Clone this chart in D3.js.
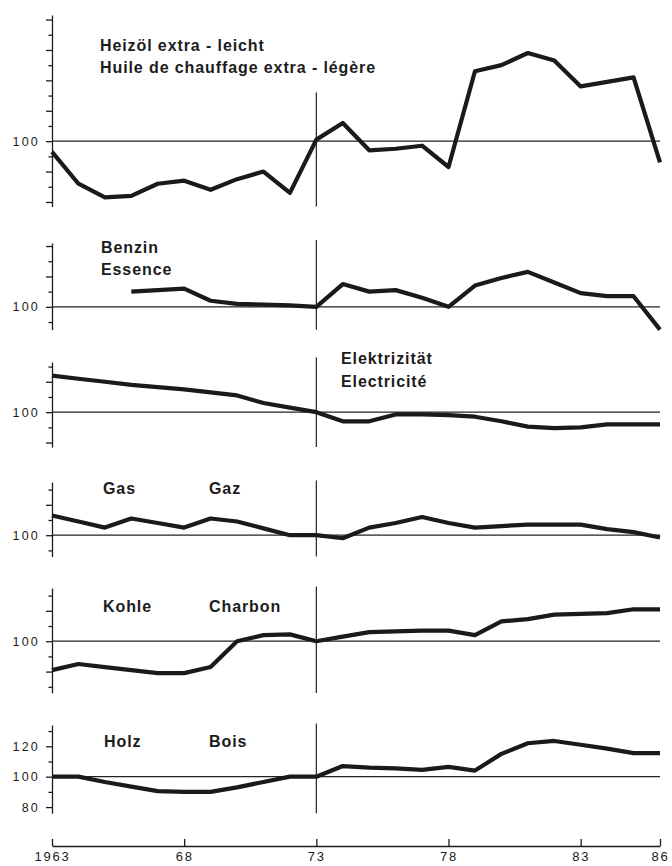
<!DOCTYPE html>
<html>
<head>
<meta charset="utf-8">
<script src="https://cdn.jsdelivr.net/npm/d3@7"></script>
<style>
body { margin: 0; background: #fff; }
text { font-family: "Liberation Sans", Arial, sans-serif; fill: #1c1c1c; }
.name { font-weight: bold; font-size: 16px; letter-spacing: 0.9px; }
.axis text { font-size: 12.5px; letter-spacing: 2.2px; font-family: "Liberation Sans", Arial, sans-serif; fill: #1c1c1c; }
.axis path, .axis line { stroke: #1c1c1c; stroke-width: 1.3px; }
</style>
</head>
<body>
<div id="chart-area"></div>
<script>
// Preisindizes 1963-1986, 1973 = 100
var years = [1963, 1964, 1965, 1966, 1967, 1968, 1969, 1970, 1971, 1972, 1973, 1974,
             1975, 1976, 1977, 1978, 1979, 1980, 1981, 1982, 1983, 1984, 1985, 1986];

var heizoel = [93, 72, 63, 64, 72, 74, 68, 75, 80, 66, 101, 112,
               94, 95, 97, 83, 146, 150, 158, 153, 136, 139, 142, 86];
var benzin = [null, null, null, 110, 111, 112, 104, 102, 101.5, 101, 100, 115,
              110, 111, 106, 100, 114, 119, 123, 116, 109, 107, 107, 85];
var elektrizitaet = [124, 122, 120, 118, 116.5, 115, 113, 111, 106, 103, 100, 94,
                     94, 98.5, 98.5, 98, 97, 94, 90.5, 89.5, 90, 92, 92, 92];
var gas = [113, 109, 105, 111, 108, 105, 111, 109, 104.5, 100, 100, 98,
           105, 108, 112, 108, 105, 106, 107, 107, 107, 104, 102, 98.5];
var kohle = [81, 85, 83, 81, 79, 79, 83, 100, 104, 104.5, 100, 103,
             106, 106.5, 107, 107, 104, 113, 114.5, 117.5, 118, 118.5, 121, 121];
var holz = [100, 100, 96.5, 93.5, 90.5, 90, 90, 93, 96.5, 100, 100, 107,
            106, 105.5, 104.5, 106.5, 104, 115, 122, 123.5, 121, 118.5, 115.5, 115.5];

var seriesNames = [
    ["Heizöl extra - leicht", "Huile de chauffage extra - légère"],
    ["Benzin", "Essence"],
    ["Elektrizität", "Electricité"],
    ["Gas", "Gaz"],
    ["Kohle", "Charbon"],
    ["Holz", "Bois"]
];

var yDomains = [[57, 183], [85, 142], [77, 133], [86, 135], [66, 135], [76, 134]];
var yTickStart = [60, 90, 80, 90, 70, 80];
var yTickEnd = [180, 140, 130, 130, 130, 130];
var yTickLabels = [[100], [100], [100], [100], [100], [80, 100, 120]];
var markTops = [132, 144, 136, 136, 136, 135];

var xTickValues = [1963, 1968, 1973, 1978, 1983, 1986];
var xTickLabels = ["1963", "68", "73", "78", "83", "86"];

var series = [heizoel, benzin, elektrizitaet, gas, kohle, holz];

var width = 672, height = 866;
var k = 1.52;   // px per index point, same for all panels
var panelTops = [15, 243, 362, 482, 588, 725];
var namePos = [
    [[100, 51], [100, 73]],
    [[101, 253], [101, 275]],
    [[341, 364], [341, 386.5]],
    [[103, 494], [209, 494]],
    [[103, 612], [209, 612]],
    [[104, 746.5], [209, 746.5]]
];

var svg = d3.select("#chart-area")
    .append("svg")
        .attr("width", width)
        .attr("height", height);

var x = d3.scaleLinear()
    .domain([1963, 1986])
    .range([52, 660]);

series.forEach(function(values, i) {
    var dom = yDomains[i];
    var y = d3.scaleLinear()
        .domain(dom)
        .range([panelTops[i] + (dom[1] - dom[0]) * k, panelTops[i]]);

    var g = svg.append("g");

    var allTicks = d3.range(yTickStart[i], yTickEnd[i] + 1, 10);
    var majorTicks = allTicks.filter(function(v) { return (v - 100) % 20 === 0; });
    var minorTicks = allTicks.filter(function(v) { return (v - 100) % 20 !== 0; });

    // minor ticks + axis line
    g.append("g")
        .attr("class", "axis")
        .attr("transform", "translate(" + x(1963) + ",0)")
        .call(d3.axisLeft(y).tickValues(minorTicks).tickSizeInner(3.5).tickSizeOuter(0).tickFormat(""));

    g.append("g")
        .attr("class", "axis")
        .attr("transform", "translate(" + x(1963) + ",0)")
        .call(d3.axisLeft(y).tickValues(majorTicks).tickSizeInner(6).tickSizeOuter(0)
            .tickPadding(6)
            .tickFormat(function(d) { return yTickLabels[i].indexOf(d) >= 0 ? d : ""; }))
        .call(function(a) { a.select(".domain").remove(); });

    // 100 reference line
    g.append("line")
        .attr("x1", x(1963))
        .attr("x2", x(1986))
        .attr("y1", y(100))
        .attr("y2", y(100))
        .attr("stroke", "#222")
        .attr("stroke-width", 1.2);

    // 1973 marker
    g.append("line")
        .attr("x1", x(1973))
        .attr("x2", x(1973))
        .attr("y1", y(markTops[i]))
        .attr("y2", y(dom[0]))
        .attr("stroke", "#222")
        .attr("stroke-width", 1.2);

    var line = d3.line()
        .defined(function(d) { return d != null; })
        .x(function(d, j) { return x(years[j]); })
        .y(function(d) { return y(d); });

    g.append("path")
        .datum(values)
        .attr("fill", "none")
        .attr("stroke", "#1a1a1a")
        .attr("stroke-width", 4.2)
        .attr("stroke-linejoin", "round")
        .attr("d", line);

    seriesNames[i].forEach(function(name, j) {
        g.append("text")
            .attr("class", "name")
            .attr("x", namePos[i][j][0])
            .attr("y", namePos[i][j][1])
            .text(name);
    });
});

// X Axis
var xAxisCall = d3.axisBottom(x)
    .tickValues(xTickValues)
    .tickSizeInner(-7)
    .tickSizeOuter(0)
    .tickPadding(6)
    .tickFormat(function(d, i) { return xTickLabels[i]; });

svg.append("g")
    .attr("class", "x axis")
    .attr("transform", "translate(0,846)")
    .call(xAxisCall)
    .selectAll("text")
        .style("font-size", "13px")
        .style("letter-spacing", "1.8px");
</script>
</body>
</html>
